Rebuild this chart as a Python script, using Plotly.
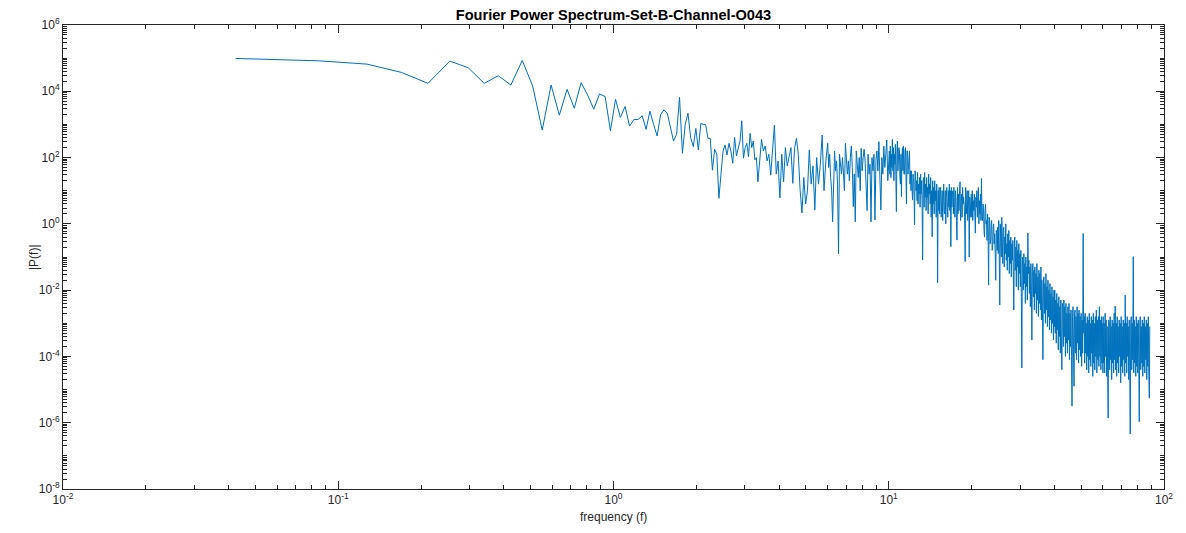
import numpy as np
import plotly.graph_objects as go

# ---- data (log10 of |P(f)|) ----
sample_rate = 173.61
n_samples = 4097
df = sample_rate / n_samples  # frequency bin width (Hz)

# FFT bins 1..80 (individually visible at low frequency)
log_power_low = [
    4.99, 4.92, 4.82, 4.57, 4.24, 4.91, 4.71, 4.24, 4.47, 4.19,
    4.93, 4.16, 2.83, 4.19, 3.28, 4.06, 3.49, 4.26, 3.89, 3.46,
    3.92, 3.84, 2.81, 3.76, 3.21, 3.54, 2.95, 3.15, 3.15, 3.26,
    2.85, 3.40, 3.00, 2.65, 3.30, 3.44, 3.34, 2.95, 2.50, 2.70,
    3.82, 2.13, 3.00, 3.34, 2.60, 2.33, 2.88, 2.23, 3.03, 3.00,
    3.00, 2.58, 2.58, 1.62, 2.25, 2.10, 0.77, 1.50, 2.20, 2.38,
    2.08, 2.43, 2.20, 1.83, 2.61, 2.05, 2.30, 2.50, 3.11, 1.98,
    2.30, 2.43, 2.02, 2.73, 2.30, 2.50, 1.93, 2.00, 1.27, 1.90,
]

# dense part of the spectrum, one list per frequency band (Hz)
band_edges = [(3.45, 6.0), (6.05, 10.0), (10.05, 15.0), (15.05, 25.0),
              (25.1, 40.0), (40.1, 60.0), (60.1, 88.8)]

log_power_3_6hz = [
    2.55, 2.2, 2.35, 1.9, 2.1, 1.47, 2.2, 2.98, 1.5, 1.9, 0.78, 2.1, 1.27,
    2.3, 1.75, 2.0, 2.3, 1.22, 2.3, 2.58, 2.1, 1.02, 0.33, 1.4, 0.6, 1.0,
    2.23, 1.2, 1.75, 0.42, 2.0, 1.2, 1.8, 2.68, 1.0, 1.9, 2.43,
]
log_power_6_10hz = [
    1.7, 2.1, 1.4, 1.02, 0.06, 1.5, 2.2, 1.6, 1.9, 1.2, -0.9, 2.1, 1.7,
    1.5, 2.0, 1.3, 1.0, 2.43, 1.8, 1.5, 1.9, 1.3, 2.0, 2.35, 1.7, 0.52,
    1.5, 0.06, 2.2, 1.75, 1.4, 2.0, 1.0, 2.28, 1.6, 2.0, 2.25, 1.9, 1.2,
    0.4, 2.1, 1.5, 1.8, 0.06, 2.0, 1.6, 2.1, 0.12, 1.9, 2.2, 1.6, 2.48,
    1.4, 0.42, 2.0, 1.5, 2.35, 1.7, 2.1, 2.53, 1.3, 2.2,
]
log_power_10_15hz = [
    2.2, 1.5, 2.35, 1.4, 2.1, 1.7, 2.55, 1.6, 2.3, 1.3, 2.1, 1.8,
    2.4, 1.5, 0.37, 2.2, 2.5, 1.6, 1.9, 2.3, 2.2, 1.4, 1.2, 2.1,
    0.82, 2.0, 2.3, 1.6, 2.35, 1.5, 1.5, 2.2, 2.3, 1.4, 0.6, 2.2,
    2.2, 1.5, 1.7, 2.1, 2.2, 1.2, 1.6, 1.0, 1.6, 1.1, 0.72, 1.5,
    1.4, 0.9, -0.03, 1.6, 1.5, 1.0, 1.3, 0.7, 1.55, 0.6, 1.2, 0.9,
    1.4, 0.5, 1.5, 0.9, 1.3, 0.6, -1.09, 1.3, 1.4, 0.5, 1.55, 0.8,
    1.2, 0.4, 1.4, 0.8, 1.1, 0.3, 1.5, 0.9, 1.2, 0.6, 1.4, 0.2,
    1.0, -0.39, 1.3, 0.6, 1.1, 0.3, 1.3, 0.7, 1.0, 0.2, 1.2, 0.5,
]
log_power_15_25hz = [
    -1.78, 1.0, 0.4, 1.1, 0.3, 0.9, 1.1, 0.2, 0.5, 1.0, 0.1, 0.9,
    1.2, 0.4, 0.3, 1.0, 0.0, 0.8, 1.1, 0.5, 0.2, 1.0, 0.5, 1.2,
    0.4, 1.0, -0.69, 1.1, 0.5, 0.9, 1.0, 0.3, 1.1, 0.5, 0.2, 1.0,
    0.8, 0.1, -0.49, 1.1, 0.3, 0.9, 0.4, 1.0, 1.27, 0.1, 0.4, 0.9,
    0.2, 1.1, 0.6, 0.8, 0.6, 0.2, -1.14, 1.1, 0.7, 0.3, 1.0, 0.1,
    0.5, 1.0, -1.0, 0.8, 0.6, 0.2, 0.9, 0.2, 1.0, 0.1, 0.7, 0.4,
    0.9, 0.3, -0.28, 0.8, 0.5, 1.0, 0.2, 0.8, 1.1, 0.0, 0.7, 0.3,
    0.9, 0.1, 1.37, 0.2, 0.1, 0.6, 0.5, -0.2, -0.4, 0.4, 0.6, 0.0,
    0.1, -0.5, 0.3, -0.3, -1.85, 0.2, 0.1, -0.6, -0.5, 0.0, 0.1, -0.8,
    -0.7, -0.1, 0.0, -0.6, -0.3, -0.9, -1.7, -0.2, -0.2, -0.8, -0.1, -0.9,
]
log_power_25_40hz = [
    0.1, -0.9, -2.45, 0.0, -0.3, -1.0, 0.2, -0.8, -1.2, -0.2, -0.1, -1.3,
    -0.4, -0.9, 0.0, -1.1, -0.6, -1.4, -0.3, -1.0, -0.2, -1.5, -0.5, -1.2,
    -0.4, -1.6, -0.6, -1.1, -0.5, -1.8, -2.6, -0.6, -0.4, -1.4, -0.7, -1.9,
    -0.5, -1.3, -0.8, -2.0, -0.6, -1.5, -0.9, -1.9, -0.8, -2.2, -4.35, -1.0,
    -1.1, -2.0, -0.9, -1.8, -1.2, -2.4, -1.0, -1.9, -1.3, -2.3, -0.28, -1.5,
    -1.1, -2.1, -1.3, -2.5, -1.2, -2.0, -3.5, -1.4, -1.2, -2.2, -1.4, -2.6,
    -1.3, -2.1, -1.5, -2.7, -1.2, -2.3, -1.6, -2.8, -1.4, -2.4, -1.5, -2.6,
    -1.3, -2.9, -1.7, -2.5, -4.1, -1.8, -1.6, -2.7, -1.8, -3.0, -1.5, -2.6,
    -1.9, -3.1, -1.7, -2.8, -2.0, -3.2, -1.8, -2.9, -2.1, -3.3, -1.9, -3.0,
    -2.2, -3.5, -2.0, -3.1,
]
log_power_40_60hz = [
    -2.0, -3.3, -2.3, -3.6, -2.1, -3.2, -2.4, -3.8, -2.2, -3.4, -2.5, -3.9,
    -2.3, -3.5, -4.4, -2.4, -2.6, -3.7, -2.3, -3.4, -2.5, -4.0, -2.4, -3.6,
    -2.7, -3.9, -2.5, -3.5, -2.4, -4.1, -2.7, -3.7, -2.6, -4.0, -5.5, -2.8,
    -2.5, -3.8, -4.9, -2.7, -2.6, -3.9, -2.8, -4.1, -2.5, -3.6, -2.7, -4.2,
    -2.6, -3.8, -2.8, -4.0, -2.7, -4.3, -2.9, -3.9, -0.29, -3.3, -2.8, -4.2,
    -2.7, -3.9, -3.0, -4.4, -2.8, -4.0, -2.9, -4.5, -2.7, -4.1, -3.0, -4.3,
    -2.8, -3.9, -2.9, -4.6, -2.7, -4.2, -3.0, -4.4, -2.8, -4.0, -2.6, -4.5,
    -2.9, -4.1, -2.8, -4.3, -2.5, -4.0, -2.9, -4.4, -2.8, -4.2, -3.0, -4.5,
]
log_power_60_89hz = [
    -2.8, -4.2, -3.0, -4.5, -2.7, -4.0, -2.9, -4.6, -3.1, -4.3, -5.86, -2.9,
    -3.0, -4.4, -2.8, -4.1, -3.1, -4.7, -2.9, -4.2, -3.0, -4.5, -2.7, -4.1,
    -2.48, -4.4, -3.0, -4.6, -2.8, -4.2, -3.1, -4.5, -2.9, -4.0, -3.0, -4.8,
    -2.8, -4.3, -3.1, -4.5, -2.9, -4.1, -3.0, -4.6, -2.15, -4.2, -3.0, -4.5,
    -2.8, -4.0, -3.1, -4.7, -2.9, -4.3, -6.34, -3.0, -2.8, -4.4, -3.0, -4.1,
    -0.99, -4.5, -2.9, -4.2, -3.1, -4.6, -2.8, -4.3, -3.0, -4.5, -2.9, -4.1,
    -5.97, -3.0, -2.8, -4.4, -3.1, -4.2, -2.9, -4.6, -3.0, -4.3, -2.8, -4.5,
    -3.1, -4.1, -2.9, -4.7, -3.0, -4.3, -2.8, -4.5, -5.26, -3.1,
]

band_values = [log_power_3_6hz, log_power_6_10hz, log_power_10_15hz,
               log_power_15_25hz, log_power_25_40hz, log_power_40_60hz,
               log_power_60_89hz]

x_tick_vals = [0.01, 0.1, 1, 10, 100]
x_tick_text = ["10<sup>-2</sup>", "10<sup>-1</sup>", "10<sup>0</sup>",
               "10<sup>1</sup>", "10<sup>2</sup>"]
y_tick_vals = [1e-8, 1e-6, 1e-4, 1e-2, 1, 1e2, 1e4, 1e6]
y_tick_text = ["10<sup>-8</sup>", "10<sup>-6</sup>", "10<sup>-4</sup>",
               "10<sup>-2</sup>", "10<sup>0</sup>", "10<sup>2</sup>",
               "10<sup>4</sup>", "10<sup>6</sup>"]

# ---- assemble series ----
freq_parts = [df * np.arange(1, len(log_power_low) + 1)]
pow_parts = [np.array(log_power_low)]
for (fa, fb), vals in zip(band_edges, band_values):
    freq_parts.append(np.geomspace(fa, fb, len(vals)))
    pow_parts.append(np.array(vals))
freq = np.concatenate(freq_parts)
power = 10.0 ** np.concatenate(pow_parts)

fig = go.Figure()
fig.add_trace(go.Scatter(
    x=freq, y=power, mode="lines",
    line=dict(color="#0072BD", width=1),
    showlegend=False, hoverinfo="x+y",
))

axis_color = "#262626"
tick_font = dict(family="Liberation Sans, Arial, sans-serif", size=12, color=axis_color)
common = dict(
    type="log", ticks="inside", ticklen=8, tickwidth=1, tickcolor=axis_color,
    showline=True, linecolor=axis_color, linewidth=1, mirror="ticks",
    showgrid=False, zeroline=False, tickmode="array", tickfont=tick_font,
    automargin=False,
    minor=dict(ticks="inside", ticklen=4, tickwidth=1, tickcolor=axis_color,
               dtick="D1", showgrid=False),
)
fig.update_xaxes(range=[-2, 2], tickvals=x_tick_vals, ticktext=x_tick_text, **common)
fig.update_yaxes(range=[-8, 6], tickvals=y_tick_vals, ticktext=y_tick_text, **common)

# the page body adds an 8px margin, so the figure is sized to fit the window
fig_w, fig_h = 1170, 517
fig.update_layout(
    width=fig_w, height=fig_h,
    margin=dict(l=55, r=14, t=17, b=36, autoexpand=False),
    paper_bgcolor="white", plot_bgcolor="white",
    font=dict(family="Liberation Sans, Arial, sans-serif", color=axis_color),
    title=dict(text="<b>Fourier Power Spectrum-Set-B-Channel-O043</b>",
               x=0.5, xref="paper", xanchor="center",
               y=1 - 7 / fig_h, yref="container", yanchor="middle",
               font=dict(size=14.6, color="black")),
    annotations=[
        dict(text="frequency (f)", xref="paper", yref="paper", x=0.5, y=-0.0593,
             xanchor="center", yanchor="middle", showarrow=False,
             font=dict(size=12, color=axis_color)),
        dict(text="|P(f)|", xref="paper", yref="paper", x=-0.0263, y=0.5,
             xanchor="center", yanchor="middle", textangle=-90, showarrow=False,
             font=dict(size=12, color=axis_color)),
    ],
)

fig.write_html("out.html")
